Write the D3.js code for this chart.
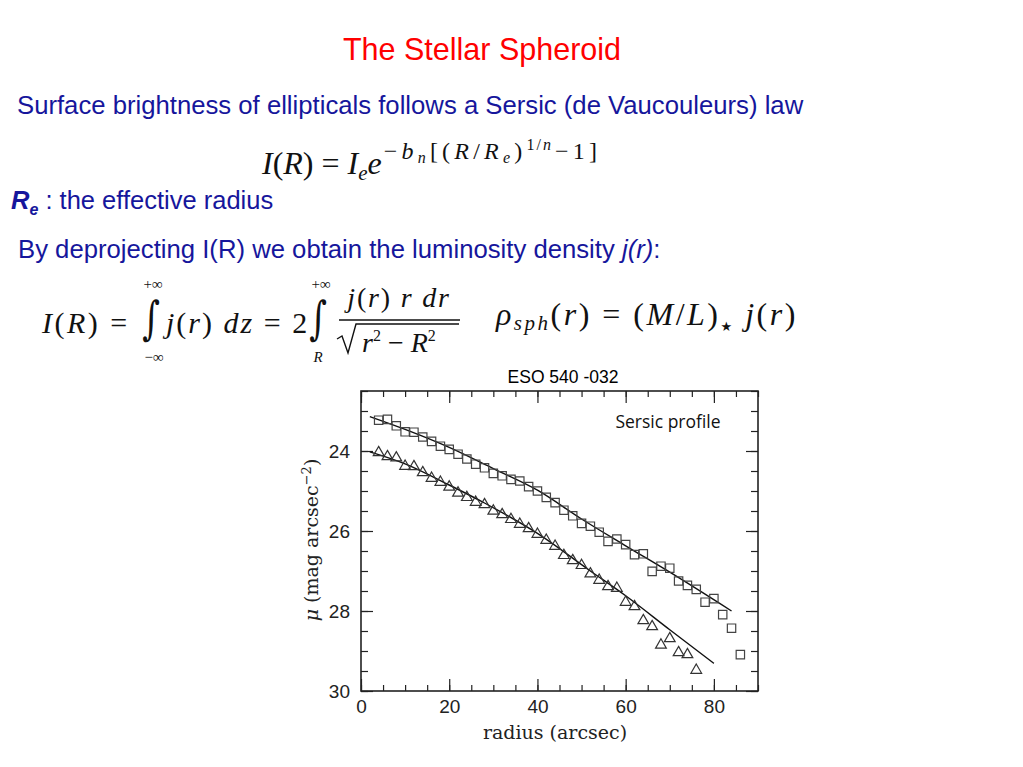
<!DOCTYPE html>
<html><head><meta charset="utf-8">
<script src="https://cdn.jsdelivr.net/npm/d3@7"></script>
<style>body{margin:0;background:#fff}svg{display:block}</style>
</head><body>
<svg id="c" width="1023" height="767"></svg>
<script>
// ---- data ----
const squareRadius = [4,6,8,10,12,14,16,18,20,22,24,26,28,30,32,34,36,38,40,42,44,46,48,50,52,54,56,58,60,62,64,66,68,70,72,74,76,78,80,82,84,86];
const squareMu = [23.23,23.21,23.37,23.52,23.53,23.65,23.76,23.88,23.96,24.08,24.20,24.33,24.42,24.56,24.62,24.71,24.75,24.89,25.00,25.16,25.29,25.48,25.62,25.81,25.88,26.03,26.26,26.20,26.34,26.59,26.57,27.01,26.88,26.93,27.25,27.36,27.46,27.78,27.69,28.09,28.43,29.09];
const triRadius = [4,6,8,10,12,14,16,18,20,22,24,26,28,30,32,34,36,38,40,42,44,46,48,50,52,54,56,58,60,62,64,66,68,70,72,74,76];
const triMu = [24.04,24.14,24.17,24.38,24.39,24.54,24.68,24.78,24.90,25.05,25.16,25.28,25.34,25.50,25.59,25.71,25.83,25.94,26.08,26.23,26.38,26.61,26.74,26.86,27.07,27.23,27.39,27.43,27.78,27.89,28.24,28.39,28.85,28.69,29.04,29.09,29.48];
const fitSquareR = [2,10,20,30,40,50,60,70,84];
const fitSquareMu = [23.14,23.46,23.91,24.44,24.98,25.70,26.37,27.03,28.00];
const fitTriR = [2,10,20,28,40,52,60,70,80];
const fitTriMu = [24.02,24.32,24.85,25.30,26.06,27.00,27.62,28.47,29.31];
const xMajorTicks = [0,20,40,60,80];
const yMajorTicks = [24,26,28,30];
const xDomain = [0,90];
const yDomain = [22.5,30];

const svg = d3.select("#c");
const BLUE = "#16169c";
const SANS = "Liberation Sans, Arial";
const TIMES = "Liberation Serif, Times New Roman";

// ---- slide text ----
svg.append("text").attr("x",482).attr("y",60).attr("text-anchor","middle")
  .attr("font-family",SANS).attr("font-size",30.5).attr("fill","#ff0000")
  .text("The Stellar Spheroid");
svg.append("text").attr("x",17).attr("y",114)
  .attr("font-family",SANS).attr("font-size",25.7).attr("fill",BLUE)
  .text("Surface brightness of ellipticals follows a Sersic (de Vaucouleurs) law");

const re = svg.append("text").attr("x",11).attr("y",209)
  .attr("font-family",SANS).attr("font-size",25.5).attr("fill",BLUE);
re.append("tspan").attr("font-weight","bold").attr("font-style","italic").text("R");
re.append("tspan").attr("font-weight","bold").attr("font-style","italic").attr("font-size",16).attr("dy",6).text("e");
re.append("tspan").attr("dy",-6).text(" : the effective radius");

const dep = svg.append("text").attr("x",18).attr("y",258)
  .attr("font-family",SANS).attr("font-size",25.7).attr("fill",BLUE);
dep.append("tspan").text("By deprojecting I(R) we obtain the luminosity density ");
dep.append("tspan").attr("font-style","italic").text("j(r)");
dep.append("tspan").text(":");

// ---- Sersic formula ----
const f1 = svg.append("text").attr("x",262).attr("y",174).attr("font-family",TIMES).attr("font-size",32).attr("fill","#111");
f1.append("tspan").attr("font-style","italic").text("I");
f1.append("tspan").text("(");
f1.append("tspan").attr("font-style","italic").text("R");
f1.append("tspan").text(") = ");
f1.append("tspan").attr("font-style","italic").text("I");
f1.append("tspan").attr("font-style","italic").attr("font-size",21).attr("dy",6).text("e");
f1.append("tspan").attr("font-style","italic").attr("dy",-6).attr("letter-spacing",2).text("e");
const LS = 4.2;
f1.append("tspan").attr("font-size",24).attr("dy",-15).attr("letter-spacing",LS).text("\u2212");
f1.append("tspan").attr("font-size",24).attr("font-style","italic").attr("letter-spacing",LS).text("b");
f1.append("tspan").attr("font-size",16).attr("font-style","italic").attr("dy",4).attr("letter-spacing",LS).text("n");
f1.append("tspan").attr("font-size",24).attr("dy",-4).attr("letter-spacing",LS).text("[(");
f1.append("tspan").attr("font-size",24).attr("font-style","italic").attr("letter-spacing",LS).text("R");
f1.append("tspan").attr("font-size",24).attr("letter-spacing",LS).text("/");
f1.append("tspan").attr("font-size",24).attr("font-style","italic").attr("letter-spacing",LS).text("R");
f1.append("tspan").attr("font-size",16).attr("font-style","italic").attr("dy",4).attr("letter-spacing",LS).text("e");
f1.append("tspan").attr("font-size",24).attr("dy",-4).attr("letter-spacing",LS).text(")");
f1.append("tspan").attr("font-size",16).attr("dy",-9).attr("letter-spacing",2).text("1/");
f1.append("tspan").attr("font-size",16).attr("font-style","italic").attr("letter-spacing",LS).text("n");
f1.append("tspan").attr("font-size",24).attr("dy",9).attr("letter-spacing",LS).text("\u22121]");

// ---- integral formula ----
function t(x,y,txt,size,italic,anchor){
  return svg.append("text").attr("x",x).attr("y",y).attr("font-family",TIMES).attr("font-size",size)
    .attr("font-style",italic?"italic":"normal").attr("text-anchor",anchor||"start").attr("fill","#111").text(txt);
}
function integral(cx){
  svg.append("text").attr("transform",`translate(${cx},334) scale(1,1.35)`).attr("text-anchor","middle")
    .attr("font-family","DejaVu Serif").attr("font-size",34).attr("fill","#111").text("\u222B");
}
const g1 = svg.append("text").attr("x",42).attr("y",333).attr("font-family",TIMES).attr("font-size",30).attr("letter-spacing",2.5).attr("fill","#111");
g1.append("tspan").attr("font-style","italic").text("I");
g1.append("tspan").text("(");
g1.append("tspan").attr("font-style","italic").text("R");
g1.append("tspan").text(") =");
integral(151);
t(153,289,"+\u221E",15,false,"middle");
t(154,362,"\u2212\u221E",15,false,"middle");
const g2 = svg.append("text").attr("x",166).attr("y",333).attr("font-family",TIMES).attr("font-size",30).attr("letter-spacing",2).attr("fill","#111");
g2.append("tspan").attr("font-style","italic").text("j");
g2.append("tspan").text("(");
g2.append("tspan").attr("font-style","italic").text("r");
g2.append("tspan").text(") ");
g2.append("tspan").attr("font-style","italic").text("dz");
g2.append("tspan").text(" = 2");
integral(318);
t(321,289,"+\u221E",15,false,"middle");
t(318,362,"R",15,true,"middle");
const num = svg.append("text").attr("x",399).attr("y",307).attr("text-anchor","middle").attr("font-family",TIMES).attr("font-size",28).attr("letter-spacing",1.8).attr("fill","#111");
num.append("tspan").attr("font-style","italic").text("j");
num.append("tspan").text("(");
num.append("tspan").attr("font-style","italic").text("r");
num.append("tspan").text(") ");
num.append("tspan").attr("font-style","italic").text("r dr");
svg.append("line").attr("x1",339).attr("x2",460).attr("y1",320).attr("y2",320).attr("stroke","#111").attr("stroke-width",1.4);
svg.append("path").attr("d","M337,339 L342,336 L348,353 L356,324 L459,324").attr("fill","none").attr("stroke","#111").attr("stroke-width",1.4);
const den = svg.append("text").attr("x",362).attr("y",352).attr("font-family",TIMES).attr("font-size",28).attr("fill","#111");
den.append("tspan").attr("font-style","italic").text("r");
den.append("tspan").attr("font-size",16).attr("dy",-11).text("2");
den.append("tspan").attr("dy",11).text(" \u2212 ");
den.append("tspan").attr("font-style","italic").text("R");
den.append("tspan").attr("font-size",16).attr("dy",-11).text("2");

// rho formula
const rho = svg.append("text").attr("x",496).attr("y",325).attr("font-family",TIMES).attr("font-size",32).attr("letter-spacing",2.5).attr("fill","#111");
rho.append("tspan").attr("font-style","italic").text("\u03C1");
rho.append("tspan").attr("font-style","italic").attr("font-size",21).attr("dy",5).text("sph");
rho.append("tspan").attr("dy",-5).text("(");
rho.append("tspan").attr("font-style","italic").text("r");
rho.append("tspan").text(")  =  (");
rho.append("tspan").attr("font-style","italic").text("M");
rho.append("tspan").text("/");
rho.append("tspan").attr("font-style","italic").text("L");
rho.append("tspan").text(")");
rho.append("tspan").attr("font-family","DejaVu Sans").attr("font-size",13).attr("dy",6).text("\u2605");
rho.append("tspan").attr("dy",-6).text(" ");
rho.append("tspan").attr("font-style","italic").text("j");
rho.append("tspan").text("(");
rho.append("tspan").attr("font-style","italic").text("r");
rho.append("tspan").text(")");

// ---- chart ----
svg.append("text").attr("x",563).attr("y",383).attr("text-anchor","middle")
  .attr("font-family",SANS).attr("font-size",17.5).attr("fill","#000").text("ESO 540 -032");

const x = d3.scaleLinear().domain(xDomain).range([361,758]);
const y = d3.scaleLinear().domain(yDomain).range([391,691]);
const AX = "#222";
const minorX = d3.range(0,91,5);
const minorY = d3.range(22.5,30.01,0.5);

function styleAxis(g){ g.select(".domain").remove(); g.selectAll("line").attr("stroke",AX).attr("stroke-width",1.2); }

svg.append("g").attr("transform",`translate(0,${y.range()[1]})`)
  .call(d3.axisBottom(x).tickValues(minorX).tickSize(-6).tickFormat("")).call(styleAxis);
svg.append("g").attr("transform",`translate(0,${y.range()[1]})`)
  .call(d3.axisBottom(x).tickValues(xMajorTicks).tickSize(-12).tickPadding(9).tickFormat(d3.format("d"))).call(styleAxis)
  .selectAll("text").attr("font-family",SANS).attr("font-size",19).attr("fill",AX);
svg.append("g").attr("transform",`translate(0,${y.range()[0]})`)
  .call(d3.axisTop(x).tickValues(minorX).tickSize(-6).tickFormat("")).call(styleAxis);
svg.append("g").attr("transform",`translate(0,${y.range()[0]})`)
  .call(d3.axisTop(x).tickValues(xMajorTicks).tickSize(-12).tickFormat("")).call(styleAxis);

svg.append("g").attr("transform",`translate(${x.range()[0]},0)`)
  .call(d3.axisLeft(y).tickValues(minorY).tickSize(-7).tickFormat("")).call(styleAxis);
svg.append("g").attr("transform",`translate(${x.range()[0]},0)`)
  .call(d3.axisLeft(y).tickValues(yMajorTicks).tickSize(-12).tickPadding(11).tickFormat(d3.format("d"))).call(styleAxis)
  .selectAll("text").attr("font-family",SANS).attr("font-size",19).attr("fill",AX);
svg.append("g").attr("transform",`translate(${x.range()[1]},0)`)
  .call(d3.axisRight(y).tickValues(minorY).tickSize(-7).tickFormat("")).call(styleAxis);
svg.append("g").attr("transform",`translate(${x.range()[1]},0)`)
  .call(d3.axisRight(y).tickValues(yMajorTicks).tickSize(-12).tickFormat("")).call(styleAxis);

svg.append("rect").attr("x",x.range()[0]).attr("y",y.range()[0])
  .attr("width",x.range()[1]-x.range()[0]).attr("height",y.range()[1]-y.range()[0])
  .attr("fill","none").attr("stroke",AX).attr("stroke-width",1.6);

// fit lines
const line = d3.line().x(d=>x(d[0])).y(d=>y(d[1])).curve(d3.curveMonotoneX);
svg.append("path").datum(fitSquareR.map((r,i)=>[r,fitSquareMu[i]])).attr("d",line)
  .attr("fill","none").attr("stroke","#111").attr("stroke-width",1.4);
svg.append("path").datum(fitTriR.map((r,i)=>[r,fitTriMu[i]])).attr("d",line)
  .attr("fill","none").attr("stroke","#111").attr("stroke-width",1.4);

// markers
const sq = d3.symbol().type(d3.symbolSquare).size(70);
svg.append("g").selectAll("path").data(squareRadius.map((r,i)=>[r,squareMu[i]])).join("path")
  .attr("d",sq).attr("transform",d=>`translate(${x(d[0])},${y(d[1])})`)
  .attr("fill","none").attr("stroke","#444").attr("stroke-width",1.2);
const tri = d3.symbol().type(d3.symbolTriangle).size(50);
svg.append("g").selectAll("path").data(triRadius.map((r,i)=>[r,triMu[i]])).join("path")
  .attr("d",tri).attr("transform",d=>`translate(${x(d[0])},${y(d[1])})`)
  .attr("fill","none").attr("stroke","#333").attr("stroke-width",1.2);

// labels
svg.append("text").attr("x",668).attr("y",428).attr("text-anchor","middle")
  .attr("font-family","Open Sans, Liberation Sans").attr("font-size",17.5).attr("fill","#111").text("Sersic profile");
svg.append("text").attr("x",555).attr("y",739).attr("text-anchor","middle")
  .attr("font-family","DejaVu Serif").attr("font-size",19).attr("fill","#222").text("radius (arcsec)");
const yl = svg.append("text").attr("transform","translate(318,540) rotate(-90)").attr("text-anchor","middle")
  .attr("font-family","DejaVu Serif").attr("font-size",19).attr("fill","#222");
yl.append("tspan").attr("font-style","italic").text("\u03BC");
yl.append("tspan").text(" (mag arcsec");
yl.append("tspan").attr("font-size",13).attr("dy",-7).text("\u22122");
yl.append("tspan").attr("dy",7).text(")");
</script>
</body></html>
